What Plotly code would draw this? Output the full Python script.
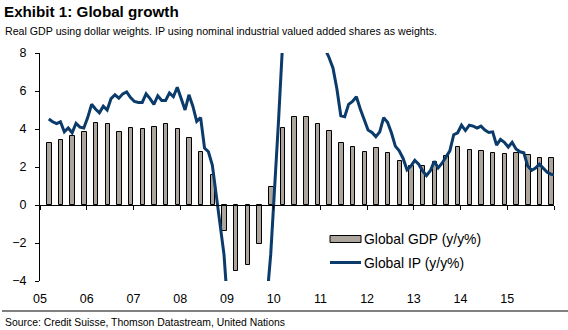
import plotly.graph_objects as go

# Quarterly global real GDP growth, 2005Q1 - 2015Q4 (y/y %)
gdp_growth = [
    3.25, 3.40, 3.61, 3.82,   # 2005
    4.30, 4.25, 3.82, 4.03,   # 2006
    3.98, 4.09, 4.25, 3.98,   # 2007
    3.51, 2.77, 1.56, -1.38,  # 2008
    -3.49, -3.17, -2.07, 0.93,  # 2009
    4.04, 4.62, 4.62, 4.25,   # 2010
    3.87, 3.25, 3.04, 2.78,   # 2011
    2.98, 2.72, 2.31, 2.05,   # 2012
    2.05, 2.28, 2.58, 3.04,   # 2013
    2.88, 2.82, 2.74, 2.68,   # 2014
    2.74, 2.61, 2.46, 2.46,   # 2015
]

# Monthly global industrial production growth, Jan 2005 - Nov 2015 (y/y %)
ip_growth = [
    4.53, 4.38, 4.28, 4.38, 3.85, 4.05, 3.80, 4.30, 4.10, 4.05, 4.60, 5.30,   # 2005
    5.05, 4.85, 5.20, 5.00, 5.60, 5.80, 5.62, 5.85, 5.95, 5.65, 5.45, 5.40,   # 2006
    5.40, 5.85, 5.60, 5.30, 5.75, 5.50, 5.50, 5.90, 5.70, 6.20, 5.60, 5.00,   # 2007
    5.80, 5.20, 4.40, 4.60, 3.00, 2.80, 2.10, 0.60, -0.90, -2.60, -5.50, -8.50,  # 2008
    -10.5, -12.0, -12.5, -12.0, -11.0, -10.0, -8.50, -7.00, -5.00, -2.60, 0.80, 4.40,  # 2009
    8.30, 10.5, 12.0, 13.0, 13.3, 13.0, 12.5, 11.8, 11.0, 10.0, 9.00, 8.20,   # 2010
    7.75, 7.20, 6.10, 4.70, 4.65, 5.30, 5.45, 5.70, 5.05, 4.50, 3.95, 3.82,   # 2011
    3.60, 3.85, 4.60, 4.35, 3.80, 3.10, 2.85, 2.45, 1.85, 2.05, 2.35, 2.15,   # 2012
    1.80, 1.55, 1.80, 2.30, 1.95, 2.20, 2.50, 2.85, 3.70, 3.80, 4.20, 3.92,   # 2013
    4.20, 4.15, 4.05, 4.15, 3.95, 3.82, 3.85, 3.15, 3.45, 3.30, 3.05, 3.30,   # 2014
    2.95, 2.80, 2.75, 2.05, 1.82, 1.95, 2.15, 1.95, 1.72, 1.62, 1.58,         # 2015
]

year_ticks = list(range(2005, 2016))
year_labels = ["05", "06", "07", "08", "09", "10", "11", "12", "13", "14", "15"]
y_ticks = [-4, -2, 0, 2, 4, 6, 8]

# time positions (decimal years)
gdp_x = [2005.2 + 0.25 * q for q in range(len(gdp_growth))]
ip_x = [2005 + (m + 2.25) / 12 for m in range(len(ip_growth))]

FONT = "Liberation Sans, Arial, sans-serif"
BAR_FILL = "#aca59d"
IP_BLUE = "#0b3b6b"

# page / plot-area geometry in pixels
WIDTH, HEIGHT = 568, 330
L, R, T, B = 40, 14, 53, 49
PW, PH = WIDTH - L - R, HEIGHT - T - B


def px(xpix):
    return (xpix - L) / PW


def py(ypix):
    return (T + PH - ypix) / PH


fig = go.Figure()

fig.add_trace(go.Bar(
    x=gdp_x, y=gdp_growth, width=0.095,
    marker=dict(color=BAR_FILL, line=dict(color="black", width=1)),
    name="Global GDP (y/y%)", showlegend=False,
    xaxis="x", yaxis="y",
))

fig.add_trace(go.Scatter(
    x=ip_x, y=ip_growth, mode="lines",
    line=dict(color=IP_BLUE, width=3),
    name="Global IP (y/y%)", showlegend=False,
    xaxis="x2", yaxis="y",
))

fig.update_layout(
    width=WIDTH, height=HEIGHT,
    margin=dict(l=L, r=R, t=T, b=B),
    paper_bgcolor="white", plot_bgcolor="white",
    font=dict(family=FONT, color="black", size=12),
    bargap=0,
    xaxis=dict(
        range=[2005, 2016], tickmode="array", tickvals=year_ticks, ticktext=year_labels,
        showline=False, ticks="", showgrid=False, zeroline=False,
        tickfont=dict(size=12.5), ticklabelstandoff=8,
    ),
    xaxis2=dict(
        range=[2005, 2016], overlaying="x", anchor="free", position=1 / 3,
        tickmode="array", tickvals=list(range(2005, 2017)),
        showline=True, linecolor="black", linewidth=1,
        ticks="outside", ticklen=4, tickcolor="black", tickwidth=1,
        showticklabels=False, showgrid=False, zeroline=False,
    ),
    yaxis=dict(
        range=[-4, 8], tickmode="array", tickvals=y_ticks,
        showline=True, linecolor="black", linewidth=1,
        ticks="outside", ticklen=4, tickcolor="black", tickwidth=1,
        showgrid=False, zeroline=False, tickfont=dict(size=12.5),
        ticklabelstandoff=6,
    ),
)

shapes = [
    # legend keys
    dict(type="rect", xref="paper", yref="paper",
         x0=px(330), x1=px(361), y0=py(242.5), y1=py(235.5),
         fillcolor=BAR_FILL, line=dict(color="black", width=1)),
    dict(type="line", xref="paper", yref="paper",
         x0=px(330), x1=px(361), y0=py(262.5), y1=py(262.5),
         line=dict(color=IP_BLUE, width=3)),
    # rule above the source note
    dict(type="line", xref="paper", yref="paper",
         x0=px(2), x1=px(568), y0=py(311), y1=py(311),
         line=dict(color="black", width=1)),
]

annotations = [
    dict(text="<b>Exhibit 1: Global growth</b>", x=px(2), y=py(11),
         font=dict(size=15.2)),
    dict(text="Real GDP using dollar weights. IP using nominal industrial valued added shares as weights.",
         x=px(3), y=py(31), font=dict(size=10.65)),
    dict(text="Global GDP (y/y%)", x=px(362), y=py(239), font=dict(size=13.9)),
    dict(text="Global IP (y/y%)", x=px(362), y=py(263), font=dict(size=13.9)),
    dict(text="Source: Credit Suisse, Thomson Datastream, United Nations",
         x=px(3), y=py(322), font=dict(size=10.4)),
]
for a in annotations:
    a.update(xref="paper", yref="paper", xanchor="left", yanchor="middle",
             showarrow=False)

fig.update_layout(shapes=shapes, annotations=annotations)

fig.write_html("out.html")
